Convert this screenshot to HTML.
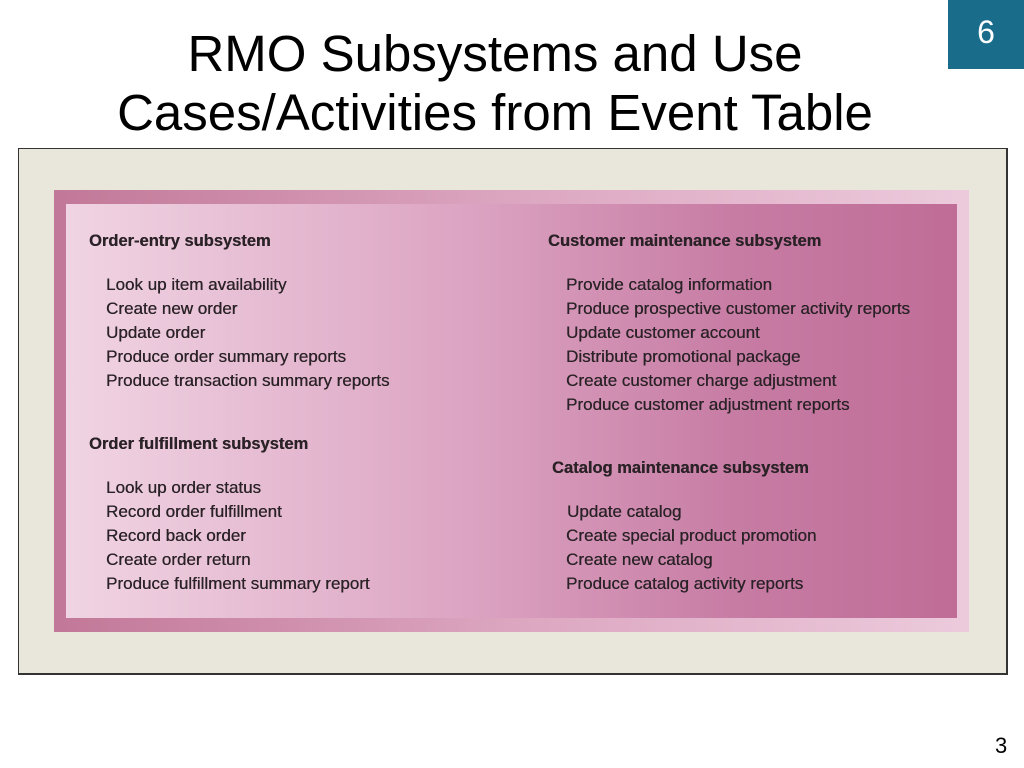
<!DOCTYPE html>
<html><head><meta charset="utf-8"><style>
body{margin:0;width:1024px;height:768px;background:#fff;position:relative;overflow:hidden;font-family:"Liberation Sans",sans-serif}
.t{position:absolute;left:0;width:990px;text-align:center;font-size:51px;color:#000;line-height:58px}
.badge{position:absolute;left:948px;top:0;width:76px;height:69px;background:#196c8a;color:#fff;font-size:32px;text-align:center;line-height:64px}
.frame{position:absolute;left:18px;top:148px;width:987px;height:524px;border:2px solid #333;border-left-width:1px;border-top-width:1px;background:#e9e6dc}
.band{position:absolute;left:54px;top:190px;width:915px;height:442px;background:linear-gradient(to right,#c27898,#dca6c0 50%,#eccadc)}
.panel{position:absolute;left:66px;top:204px;width:891px;height:414px;background:linear-gradient(to right,#f0d4e3,#dca4c2 45%,#c77ca4 75%,#bf6d97)}
.l{position:absolute;font-size:17px;line-height:22px;color:#2a2226;white-space:nowrap;text-shadow:0.3px 0 0 #2a2226}
.h{font-weight:bold;font-size:16.5px}
</style></head><body>
<div class="t" style="top:25px">RMO Subsystems and Use</div>
<div class="t" style="top:84px">Cases/Activities from Event Table</div>
<div class="badge">6</div>
<div class="frame"></div>
<div class="band"></div>
<div class="panel"></div>
<div class="l h" style="left:89px;top:230px">Order-entry subsystem</div>
<div class="l" style="left:106px;top:274px">Look up item availability</div>
<div class="l" style="left:106px;top:298px">Create new order</div>
<div class="l" style="left:106px;top:322px">Update order</div>
<div class="l" style="left:106px;top:346px">Produce order summary reports</div>
<div class="l" style="left:106px;top:370px">Produce transaction summary reports</div>
<div class="l h" style="left:89px;top:433px">Order fulfillment subsystem</div>
<div class="l" style="left:106px;top:477px">Look up order status</div>
<div class="l" style="left:106px;top:501px">Record order fulfillment</div>
<div class="l" style="left:106px;top:525px">Record back order</div>
<div class="l" style="left:106px;top:549px">Create order return</div>
<div class="l" style="left:106px;top:573px">Produce fulfillment summary report</div>
<div class="l h" style="left:548px;top:230px">Customer maintenance subsystem</div>
<div class="l" style="left:566px;top:274px">Provide catalog information</div>
<div class="l" style="left:566px;top:298px">Produce prospective customer activity reports</div>
<div class="l" style="left:566px;top:322px">Update customer account</div>
<div class="l" style="left:566px;top:346px">Distribute promotional package</div>
<div class="l" style="left:566px;top:370px">Create customer charge adjustment</div>
<div class="l" style="left:566px;top:394px">Produce customer adjustment reports</div>
<div class="l h" style="left:552px;top:457px">Catalog maintenance subsystem</div>
<div class="l" style="left:567px;top:501px">Update catalog</div>
<div class="l" style="left:566px;top:525px">Create special product promotion</div>
<div class="l" style="left:566px;top:549px">Create new catalog</div>
<div class="l" style="left:566px;top:573px">Produce catalog activity reports</div>
<div style="position:absolute;left:995px;top:733px;font-size:22px">3</div>
</body></html>
